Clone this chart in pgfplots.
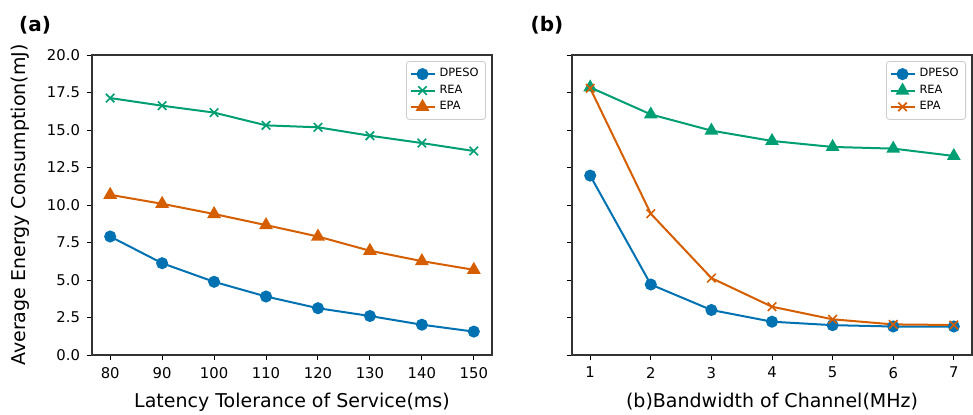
\documentclass[border=0pt]{standalone}
\usepackage{fontspec}
\setmainfont{DejaVu Sans}
\usepackage{pgfplots}
\pgfplotsset{compat=1.18}
\definecolor{cblue}{HTML}{0072B2}
\definecolor{cgreen}{HTML}{009E73}
\definecolor{corange}{HTML}{D55E00}
\pgfplotsset{
  myaxis/.style={
    width=200pt, height=150pt, scale only axis,
    anchor=south west,
    ymin=0, ymax=20,
    ytick={0,2.5,5,7.5,10,12.5,15,17.5,20},
    /pgf/number format/assume math mode=true,
    tick align=outside, tick pos=left,
    major tick length=2.5pt,
    every tick/.style={black, line width=0.5pt},
    axis line style={black!80, line width=0.6pt},
    tick label style={font=\fontsize{7.4}{8.5}\selectfont},
    label style={font=\fontsize{9.5}{11}\selectfont},
    legend cell align=left,
    legend style={at={(0.985,0.98)}, anchor=north east,
      draw=black!20, rounded corners=1.5pt, fill=white,
      font=\fontsize{5.7}{6.7}\selectfont,
      row sep=-1.5pt, inner sep=1.5pt},
    legend image code/.code={\draw[mark repeat=2,mark phase=2] plot coordinates {(0pt,0pt)(6pt,0pt)(12pt,0pt)};},
    every axis plot/.append style={line width=1pt},
  }
}
\begin{document}
\begin{tikzpicture}[x=1pt,y=1pt]
\useasboundingbox (0,0) rectangle (486.5,207);
\begin{axis}[myaxis, at={(46pt,29.5pt)},
  xmin=76.5, xmax=153.5, xtick={80,90,100,110,120,130,140,150},
  yticklabel style={/pgf/number format/.cd, fixed, fixed zerofill, precision=1},
  xlabel={Latency Tolerance of Service(ms)},
  ylabel={Average Energy Consumption(mJ)},
  xlabel style={yshift=-0.5pt},
  ylabel style={yshift=2pt},
]
\addplot[color=cblue, mark=*, mark size=2.5pt] coordinates {
(80,7.9)(90,6.12)(100,4.88)(110,3.9)(120,3.12)(130,2.6)(140,2.02)(150,1.56)};
\addlegendentry{DPESO}
\addplot[color=cgreen, mark=x, mark size=3pt, mark options={line width=0.8pt}] coordinates {
(80,17.13)(90,16.62)(100,16.16)(110,15.31)(120,15.18)(130,14.62)(140,14.13)(150,13.6)};
\addlegendentry{REA}
\addplot[color=corange, mark=triangle*, mark size=3pt] coordinates {
(80,10.68)(90,10.08)(100,9.4)(110,8.66)(120,7.9)(130,6.95)(140,6.26)(150,5.68)};
\addlegendentry{EPA}
\end{axis}
\begin{axis}[myaxis, at={(286pt,29.5pt)},
  xmin=0.7, xmax=7.3, xtick={1,2,3,4,5,6,7},
  yticklabels={},
  xlabel={(b)Bandwidth of Channel(MHz)},
  xlabel style={yshift=-0.5pt},
]
\addplot[color=cblue, mark=*, mark size=2.5pt] coordinates {
(1,11.96)(2,4.7)(3,3.0)(4,2.22)(5,1.99)(6,1.9)(7,1.9)};
\addlegendentry{DPESO}
\addplot[color=cgreen, mark=triangle*, mark size=3pt] coordinates {
(1,17.84)(2,16.04)(3,14.96)(4,14.27)(5,13.87)(6,13.76)(7,13.27)};
\addlegendentry{REA}
\addplot[color=corange, mark=x, mark size=3pt, mark options={line width=0.8pt}] coordinates {
(1,17.78)(2,9.42)(3,5.13)(4,3.22)(5,2.38)(6,2.04)(7,2.0)};
\addlegendentry{EPA}
\end{axis}
\node[font=\bfseries\fontsize{10}{12}\selectfont] at (17.5,194.5) {(a)};
\node[font=\bfseries\fontsize{10}{12}\selectfont] at (273.5,194.5) {(b)};
\end{tikzpicture}
\end{document}
